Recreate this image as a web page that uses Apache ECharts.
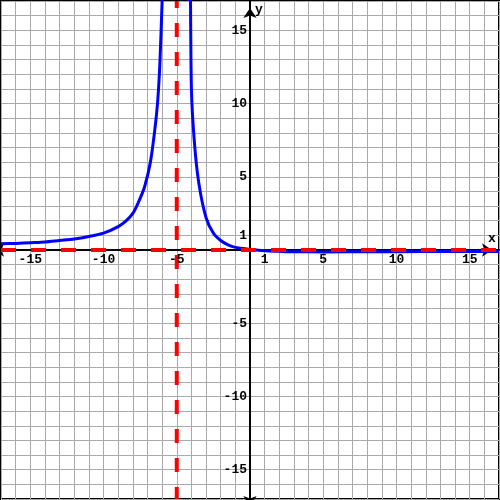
<!DOCTYPE html>
<html><head><meta charset="utf-8">
<script src="https://cdn.jsdelivr.net/npm/echarts@6/dist/echarts.min.js"></script>
<style>html,body{margin:0;padding:0;background:#fff}#c{width:500px;height:500px}</style>
</head><body><div id="c"></div>
<script>
// Axis range and tick labels
const axisMin = -17, axisMax = 17;
const xTickLabels = [-15, -10, -5, 1, 5, 10, 15];
const yTickLabels = [-15, -10, -5, 1, 5, 10, 15];
// Curve, left branch (x < -5)
const leftX = [-17, -16, -15, -14, -13, -12, -11, -10, -9, -8.5, -8, -7.6, -7.2, -6.8, -6.5, -6.3, -6.15, -6.0, -5.9];
const leftY = [0.42, 0.45, 0.5, 0.55, 0.65, 0.75, 0.92, 1.15, 1.6, 1.95, 2.5, 3.3, 4.3, 6.0, 8.2, 10.2, 12.8, 17, 20];
// Curve, right branch (x > -5)
const rightX = [-4.1, -4.2, -4.0, -3.8, -3.5, -3.0, -2.5, -2.0, -1.5, -1, 0, 1, 2, 3, 5, 8, 12, 17];
const rightY = [20, 17, 11.0, 7.4, 4.6, 2.2, 1.15, 0.65, 0.35, 0.18, 0.05, -0.05, -0.09, -0.12, -0.13, -0.12, -0.11, -0.1];
// Asymptotes
const vAsymX = -5;
const hAsymY = 0;

const pairs = (xs, ys) => xs.map((x, i) => [x, ys[i]]);
const rightPts = pairs(rightX, rightY).sort((a, b) => a[0] - b[0]);

const font = {fontFamily: 'Liberation Mono', fontWeight: 'bold', fontSize: 13, color: '#000'};
const fmt = list => v => {
  const r = Math.round(v);
  return (list.indexOf(r) >= 0 && Math.abs(v - r) < 1e-6) ? String(r) : '';
};
// the label axes sit on the zero lines: half of the 498px plot away from the edges
const labelAxisOffset = -249;

const chart = echarts.init(document.getElementById('c'), null, {renderer: 'canvas'});
chart.setOption({
  animation: false,
  grid: {left: 1, right: 1, top: 1, bottom: 1, show: true, borderColor: '#000', borderWidth: 2, containLabel: false, outerBoundsMode: 'none'},
  xAxis: [{
    type: 'value', min: axisMin, max: axisMax, interval: 1, z: 0,
    axisLine: {show: true, onZero: true, lineStyle: {color: '#000', width: 2}, symbol: ['arrow', 'arrow'], symbolSize: [10, 10], symbolOffset: [-7, -7]},
    axisTick: {show: false}, axisLabel: {show: false},
    splitLine: {show: true, lineStyle: {color: '#aaaaaa', width: 1}}
  }, {
    type: 'value', min: axisMin, max: axisMax, interval: 1, z: 10, position: 'bottom', offset: labelAxisOffset,
    axisLine: {show: false, onZero: false},
    axisTick: {show: false}, splitLine: {show: false},
    axisLabel: Object.assign({show: true, interval: 0, margin: 3, formatter: fmt(xTickLabels)}, font),
    name: 'x', nameLocation: 'end', nameGap: -7,
    nameTextStyle: Object.assign({align: 'center', verticalAlign: 'bottom', padding: [0, 0, 5, 0]}, font)
  }],
  yAxis: [{
    type: 'value', min: axisMin, max: axisMax, interval: 1, z: 0,
    axisLine: {show: true, onZero: true, lineStyle: {color: '#000', width: 2}, symbol: ['arrow', 'arrow'], symbolSize: [10, 10], symbolOffset: [-7, -7]},
    axisTick: {show: false}, axisLabel: {show: false},
    splitLine: {show: true, lineStyle: {color: '#aaaaaa', width: 1}}
  }, {
    type: 'value', min: axisMin, max: axisMax, interval: 1, z: 10, position: 'left', offset: labelAxisOffset,
    axisLine: {show: false, onZero: false},
    axisTick: {show: false}, splitLine: {show: false},
    axisLabel: Object.assign({show: true, interval: 0, margin: 3, formatter: fmt(yTickLabels)}, font),
    name: 'y', nameLocation: 'end', nameGap: -9,
    nameTextStyle: Object.assign({align: 'left', verticalAlign: 'middle', padding: [0, 0, 0, 5]}, font)
  }],
  series: [
    {type: 'line', data: pairs(leftX, leftY), smooth: 0.3, showSymbol: false, clip: true, z: 3,
     lineStyle: {color: '#0000ff', width: 3}},
    {type: 'line', data: rightPts, smooth: 0.3, showSymbol: false, clip: true, z: 3,
     lineStyle: {color: '#0000ff', width: 3}},
    {type: 'line', data: [[vAsymX, axisMax], [vAsymX, axisMin]], showSymbol: false, z: 4,
     lineStyle: {color: '#ff0000', width: 4, type: [14, 15], dashOffset: 7}},
    {type: 'line', data: [[axisMin, hAsymY], [axisMax, hAsymY]], showSymbol: false, z: 4,
     lineStyle: {color: '#ff0000', width: 4, type: [15, 15], dashOffset: 0}}
  ]
});
</script></body></html>
